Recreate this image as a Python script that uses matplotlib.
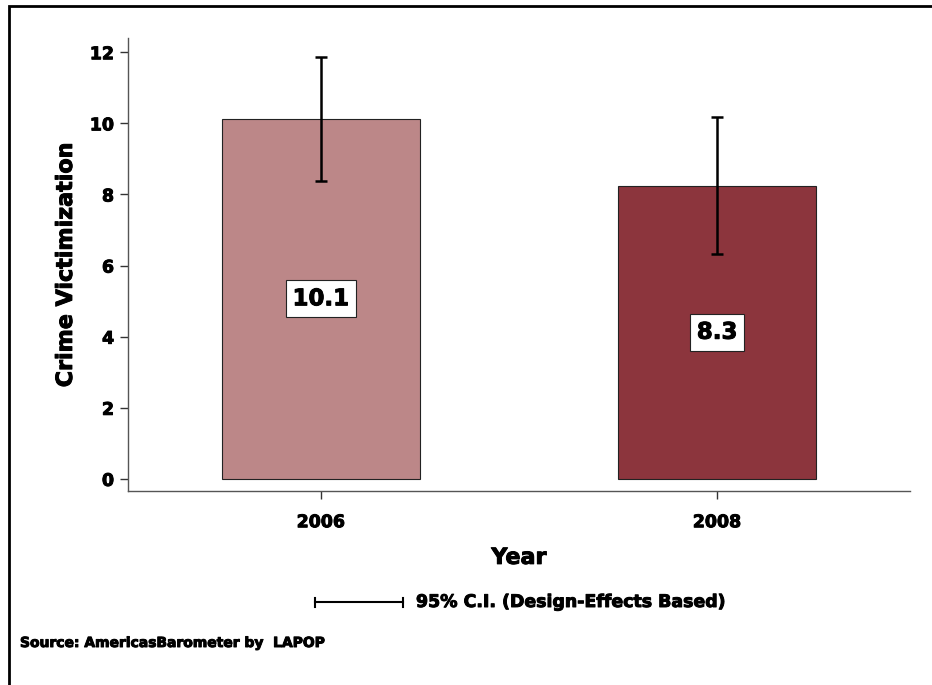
import numpy as np
import matplotlib.pyplot as plt
import matplotlib.patheffects as pe
from matplotlib.patches import Rectangle
from matplotlib.lines import Line2D

plt.rcParams['font.family'] = ['DejaVu Sans']
plt.rcParams['font.weight'] = 'bold'

years = ['2006', '2008']
values = [10.1, 8.3]
bar_tops = [10.13, 8.25]
ci_low = [8.38, 6.33]
ci_high = [11.87, 10.18]
bar_colors = ['#bc8788', '#8c353d']

# slightly heavier text, closer to the original heavy sans
heavy = [pe.withStroke(linewidth=0.7, foreground='black')]

fig = plt.figure(figsize=(9.32, 6.85), dpi=100)
ax = fig.add_axes([0.1373, 0.2832, 0.8391, 0.6613])

x = np.arange(len(years))
ax.bar(x, bar_tops, width=0.5, color=bar_colors, edgecolor='#222222', linewidth=0.8, zorder=2)

# error bars (95% CI)
tops = np.array(bar_tops)
yerr = [tops - np.array(ci_low), np.array(ci_high) - tops]
ax.errorbar(x, tops, yerr=yerr, fmt='none', ecolor='black', elinewidth=1.8,
            capsize=4, capthick=1.8, zorder=3)

# value labels in white boxes at half height
for xi, top, val in zip(x, bar_tops, values):
    t = ax.text(xi, top / 2, f'{val:.1f}', ha='center', va='center', fontsize=16.5,
                fontweight='bold', zorder=4,
                bbox=dict(boxstyle='square,pad=0.3', facecolor='white', edgecolor='#222222', linewidth=0.8))
    t.set_path_effects(heavy)

ax.set_xlim(-0.487, 1.487)
ax.set_ylim(-0.34, 12.4)
ax.set_xticks(x)
ax.set_xticklabels(years)
ax.set_yticks(np.arange(0, 13, 2))

for side in ['top', 'right']:
    ax.spines[side].set_visible(False)
for side in ['left', 'bottom']:
    ax.spines[side].set_color('#555555')
    ax.spines[side].set_linewidth(1.0)

ax.tick_params(axis='both', labelsize=12.5, length=6, width=1.0, color='#333333')
ax.tick_params(axis='y', pad=4)
ax.tick_params(axis='x', pad=10)
for lbl in ax.get_xticklabels() + ax.get_yticklabels():
    lbl.set_fontweight('bold')
    lbl.set_path_effects(heavy)

ax.set_ylabel('Crime Victimization', fontsize=16, fontweight='bold', labelpad=10,
              path_effects=heavy)
ax.set_xlabel('Year', fontsize=16, fontweight='bold', labelpad=12, path_effects=heavy)

# legend-like CI glyph
ly = 1 - 602 / 685
fig.add_artist(Line2D([315 / 932, 403 / 932], [ly, ly], color='black', linewidth=1.5))
for xe in [315 / 932, 403 / 932]:
    fig.add_artist(Line2D([xe, xe], [ly - 4.5 / 685, ly + 4.5 / 685], color='black', linewidth=1.5))
fig.text(416 / 932, ly, '95% C.I. (Design-Effects Based)', fontsize=12.5, fontweight='bold',
         ha='left', va='center', path_effects=heavy)

fig.text(20 / 932, 1 - 643 / 685, 'Source: AmericasBarometer by  LAPOP', fontsize=10,
         fontweight='bold', ha='left', va='center', path_effects=heavy)

# outer frame
fig.add_artist(Rectangle((9 / 932, -0.05), 1.0, 1 - 6 / 685 + 0.05, transform=fig.transFigure,
                         fill=False, edgecolor='black', linewidth=2))

fig.savefig('out.png', dpi=100)
